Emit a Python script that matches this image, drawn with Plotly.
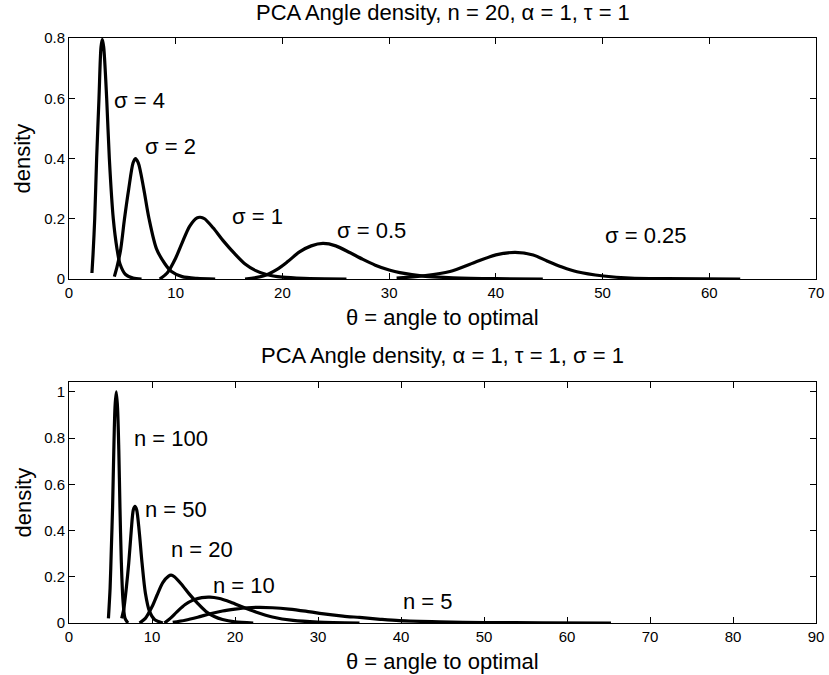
import plotly.graph_objects as go
from plotly.subplots import make_subplots

# Top panel: density curves for several sigma values (n = 20)
sig4_x = [2.15, 2.25, 2.41, 2.59, 2.81, 3.0, 3.12, 3.25, 3.53, 3.78, 4.15, 4.5, 4.78, 5.3, 6.0, 6.8]
sig4_y = [0.02, 0.08, 0.2, 0.4, 0.6, 0.77, 0.795, 0.77, 0.6, 0.4, 0.2, 0.1, 0.05, 0.015, 0.003, 0.0]
sig2_x = [4.25, 4.5, 4.85, 5.2, 5.6, 6.0, 6.22, 6.5, 7.0, 7.5, 8.2, 9.0, 9.6, 10.6, 12.0, 13.7]
sig2_y = [0.008, 0.04, 0.1, 0.2, 0.3, 0.385, 0.4, 0.385, 0.3, 0.2, 0.1, 0.05, 0.025, 0.008, 0.002, 0.0]
sig1_x = [8.5, 9.2, 10.0, 10.6, 11.3, 12.0, 12.3, 12.7, 13.5, 14.5, 15.5, 16.5, 17.5, 18.5, 20.0, 22.0, 26.0]
sig1_y = [0.0, 0.02, 0.07, 0.12, 0.175, 0.203, 0.205, 0.2, 0.17, 0.125, 0.085, 0.05, 0.028, 0.015, 0.006, 0.002, 0.0]
sig05_x = [16.5, 18.2, 19.5, 20.5, 21.6, 22.7, 23.8, 25.0, 26.3, 27.5, 28.7, 30.0, 31.0, 33.4, 36.0, 40.0, 44.4]
sig05_y = [0.0, 0.01, 0.032, 0.058, 0.09, 0.11, 0.118, 0.11, 0.088, 0.066, 0.046, 0.03, 0.021, 0.009, 0.004, 0.001, 0.0]
sig025_x = [30.7, 33.4, 35.7, 38.0, 40.0, 41.8, 43.5, 44.8, 46.2, 47.6, 50.1, 52.6, 56.0, 62.9]
sig025_y = [0.003, 0.011, 0.025, 0.055, 0.08, 0.0885, 0.08, 0.06, 0.04, 0.024, 0.01, 0.003, 0.001, 0.0]

# Bottom panel: density curves for several n values (sigma = 1)
n100_x = [4.75, 4.95, 5.1, 5.25, 5.4, 5.55, 5.7, 5.85, 6.0, 6.14, 6.3, 6.5, 6.75, 7.1]
n100_y = [0.02, 0.15, 0.32, 0.5, 0.75, 0.94, 1.0, 0.93, 0.75, 0.5, 0.27, 0.1, 0.02, 0.0]
n50_x = [6.35, 6.6, 6.9, 7.2, 7.5, 7.75, 7.95, 8.15, 8.45, 8.8, 9.2, 9.7, 10.3, 11.3]
n50_y = [0.02, 0.06, 0.15, 0.26, 0.4, 0.49, 0.505, 0.49, 0.4, 0.26, 0.13, 0.05, 0.015, 0.0]
n20_x = [8.5, 9.2, 10.0, 10.6, 11.3, 12.0, 12.3, 12.7, 13.5, 14.5, 15.5, 16.5, 17.5, 18.5, 20.0, 22.2]
n20_y = [0.0, 0.02, 0.07, 0.12, 0.175, 0.203, 0.207, 0.2, 0.17, 0.125, 0.085, 0.05, 0.028, 0.015, 0.005, 0.0]
n10_x = [11.5, 12.2, 13.0, 14.0, 15.0, 16.0, 17.0, 18.0, 19.5, 21.0, 22.5, 24.5, 27.0, 30.0, 35.0]
n10_y = [0.0, 0.02, 0.048, 0.08, 0.1, 0.11, 0.112, 0.107, 0.09, 0.068, 0.048, 0.026, 0.011, 0.004, 0.0]
n5_x = [12.5, 14.0, 15.5, 17.0, 18.5, 20.0, 21.5, 23.0, 24.5, 26.5, 28.5, 30.2, 33.0, 35.0, 37.5, 39.8, 44.6, 50.0, 57.0, 65.3]
n5_y = [0.003, 0.012, 0.025, 0.04, 0.052, 0.06, 0.066, 0.068, 0.066, 0.06, 0.051, 0.042, 0.03, 0.024, 0.016, 0.01, 0.005, 0.002, 0.001, 0.0]

# Curve labels (text, x, y)
top_labels = [("σ = 4", 4.0, 0.594), ("σ = 2", 6.97, 0.44), ("σ = 1", 15.1, 0.209),
              ("σ = 0.5", 24.9, 0.16), ("σ = 0.25", 50.0, 0.143)]
bottom_labels = [("n = 100", 7.54, 0.80), ("n = 50", 8.94, 0.492), ("n = 20", 12.07, 0.319),
                 ("n = 10", 17.05, 0.164), ("n = 5", 40.0, 0.095)]

top_title = "PCA Angle density, n = 20, α = 1, τ = 1"
bottom_title = "PCA Angle density, α = 1, τ = 1, σ = 1"
x_title = "θ = angle to optimal"
y_title = "density"

FONT = "Liberation Sans, Arial, sans-serif"
BIG = 22

fig = make_subplots(rows=2, cols=1)

for xs, ys in [(sig4_x, sig4_y), (sig2_x, sig2_y), (sig1_x, sig1_y),
               (sig05_x, sig05_y), (sig025_x, sig025_y)]:
    fig.add_trace(go.Scatter(x=xs, y=ys, mode="lines",
                             line=dict(color="black", width=3.2, shape="spline", smoothing=0.8)),
                  row=1, col=1)

for xs, ys in [(n100_x, n100_y), (n50_x, n50_y), (n20_x, n20_y),
               (n10_x, n10_y), (n5_x, n5_y)]:
    fig.add_trace(go.Scatter(x=xs, y=ys, mode="lines",
                             line=dict(color="black", width=3.2, shape="spline", smoothing=0.8)),
                  row=2, col=1)

annotations = []
for txt, x, y in top_labels:
    annotations.append(dict(text=txt, x=x, y=y, xref="x", yref="y", showarrow=False,
                            xanchor="left", yanchor="middle", font=dict(size=BIG)))
for txt, x, y in bottom_labels:
    annotations.append(dict(text=txt, x=x, y=y, xref="x2", yref="y2", showarrow=False,
                            xanchor="left", yanchor="middle", font=dict(size=BIG)))

# titles and axis labels, placed relative to each subplot frame
for xd, yd, title in [("x domain", "y domain", top_title), ("x2 domain", "y2 domain", bottom_title)]:
    annotations += [
        dict(text=title, x=0.5, y=1.0, xref=xd, yref=yd, yshift=26, showarrow=False,
             xanchor="center", yanchor="middle", font=dict(size=BIG)),
        dict(text=x_title, x=0.5, y=0.0, xref=xd, yref=yd, yshift=-38, showarrow=False,
             xanchor="center", yanchor="middle", font=dict(size=BIG)),
        dict(text=y_title, x=0.0, y=0.5, xref=xd, yref=yd, xshift=-46, showarrow=False,
             textangle=-90, xanchor="center", yanchor="middle", font=dict(size=BIG)),
    ]

fig.update_layout(
    width=829, height=675,
    margin=dict(l=69, r=13, t=38, b=52, autoexpand=False),
    paper_bgcolor="white", plot_bgcolor="white",
    showlegend=False,
    font=dict(family=FONT, color="black", size=15),
    annotations=annotations,
)

axis_style = dict(showline=True, linecolor="black", linewidth=1, mirror="ticks",
                  ticks="inside", ticklen=6, tickcolor="black", showgrid=False,
                  zeroline=False, tickfont=dict(size=15), automargin=False)

fig.update_xaxes(axis_style)
fig.update_yaxes(axis_style)

fig.update_xaxes(range=[0, 70], dtick=10, row=1, col=1)
fig.update_xaxes(range=[0, 90], dtick=10, row=2, col=1)
fig.update_yaxes(range=[0, 0.8], dtick=0.2, row=1, col=1)
fig.update_yaxes(range=[0, 1.043], dtick=0.2, row=2, col=1)

fig.update_layout(yaxis=dict(domain=[0.588, 1.0]), yaxis2=dict(domain=[0.0, 0.412]))

# drop the browser's default 8px body margin so the figure fills the window
fig.write_html("out.html", config={"displayModeBar": False},
               post_script="document.body.style.margin='0px';")
